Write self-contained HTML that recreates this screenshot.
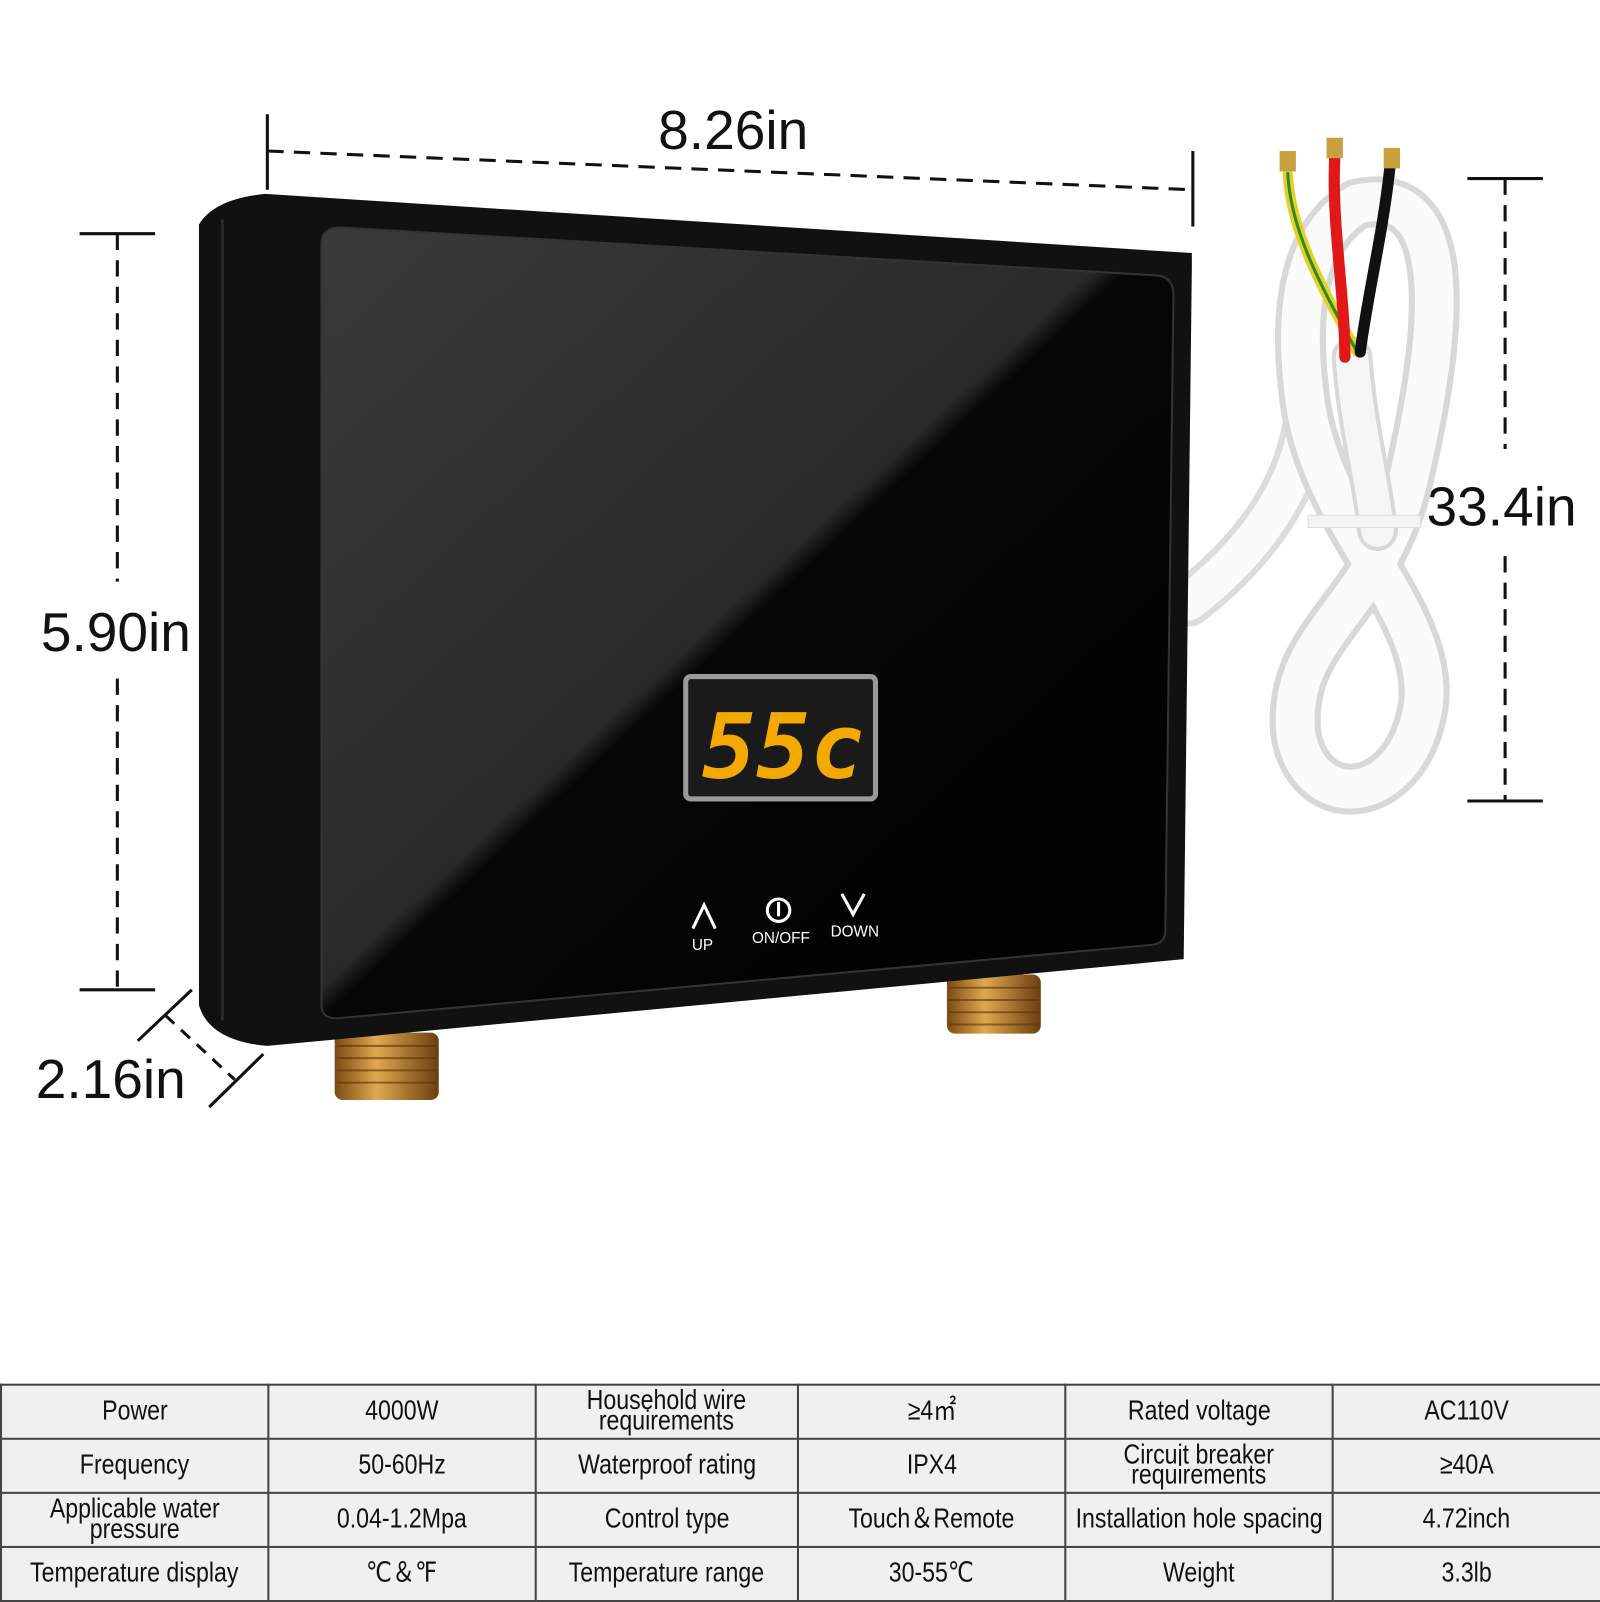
<!DOCTYPE html>
<html><head><meta charset="utf-8"><style>
html,body{margin:0;padding:0;background:#fff;width:1600px;height:1600px;overflow:hidden}
#w{position:absolute;left:0;top:0;width:1568px;height:1568px;transform:scale(1.020408);transform-origin:0 0;font-family:"Liberation Sans","DejaVu Sans",sans-serif}
svg{position:absolute;left:0;top:0}
table{position:absolute;left:0;top:1356px;width:1569px;border-collapse:collapse;table-layout:fixed}
td{border:2px solid #444;background:#f0f0f0;height:51px;text-align:center;color:#111;padding:0;white-space:nowrap;overflow:visible}
td span{display:inline-block;font-size:27px;line-height:20px;transform:scaleX(0.84);margin:0 -30px}
</style></head><body><div id="w">
<svg width="1568" height="1568" viewBox="0 0 1568 1568">
<defs>
<linearGradient id="g" x1="0" y1="0" x2="1" y2="1">
<stop offset="0" stop-color="#3a3a3a"/><stop offset="0.48" stop-color="#2a2a2a"/><stop offset="0.5" stop-color="#060606"/><stop offset="1" stop-color="#000"/></linearGradient>
<linearGradient id="br" x1="0" y1="0" x2="1" y2="0"><stop offset="0" stop-color="#7a4a14"/><stop offset="0.4" stop-color="#e0a850"/><stop offset="1" stop-color="#6a3e10"/></linearGradient>
</defs>
<g stroke="#111" stroke-width="3" fill="none">
<line x1="262" y1="112" x2="262" y2="186"/><line x1="1169" y1="148" x2="1169" y2="222"/>
<line x1="262" y1="148" x2="1169" y2="186" stroke-dasharray="16 10"/>
<line x1="78" y1="229" x2="152" y2="229"/><line x1="78" y1="970" x2="152" y2="970"/>
<line x1="115" y1="229" x2="115" y2="570" stroke-dasharray="16 10"/><line x1="115" y1="665" x2="115" y2="970" stroke-dasharray="16 10"/>
<line x1="1438" y1="175" x2="1512" y2="175"/><line x1="1438" y1="785" x2="1512" y2="785"/>
<line x1="1475" y1="175" x2="1475" y2="440" stroke-dasharray="16 10"/><line x1="1475" y1="545" x2="1475" y2="785" stroke-dasharray="16 10"/>
<line x1="135" y1="1020" x2="188" y2="970"/><line x1="205" y1="1085" x2="258" y2="1033"/>
<line x1="162" y1="995" x2="230" y2="1058" stroke-dasharray="12 9"/>
</g>
<g font-family="Liberation Sans,sans-serif" font-size="54" fill="#111">
<text x="645" y="146">8.26in</text><text x="40" y="638">5.90in</text><text x="1398" y="515">33.4in</text><text x="35" y="1076">2.16in</text>
</g>
<g fill="none" stroke-linecap="round">
<path d="M1165 590 C1230 540 1270 480 1280 420" stroke="#dcdcdc" stroke-width="48"/>
<path d="M1165 590 C1230 540 1270 480 1280 420" stroke="#fbfbfb" stroke-width="36"/>
<path d="M1330 200 C1420 180 1420 300 1380 470 C1350 600 1260 620 1270 720 C1285 800 1380 790 1395 690 C1405 600 1300 520 1280 400 C1265 300 1280 230 1330 200" stroke="#d8d8d8" stroke-width="50"/>
<path d="M1330 200 C1420 180 1420 300 1380 470 C1350 600 1260 620 1270 720 C1285 800 1380 790 1395 690 C1405 600 1300 520 1280 400 C1265 300 1280 230 1330 200" stroke="#fbfbfb" stroke-width="38"/>
<path d="M1325 350 C1330 420 1345 470 1350 520" stroke="#d8d8d8" stroke-width="40"/>
<path d="M1325 350 C1330 420 1345 470 1350 520" stroke="#f6f6f6" stroke-width="32"/>
<path d="M1262 170 C1265 230 1300 290 1330 345" stroke="#e8d020" stroke-width="10"/>
<path d="M1262 170 C1265 230 1300 290 1330 345" stroke="#2a8a30" stroke-width="3"/>
<path d="M1308 155 C1305 220 1318 290 1318 350" stroke="#e01818" stroke-width="11"/>
<path d="M1362 165 C1355 230 1340 290 1333 345" stroke="#111" stroke-width="11"/>
</g>
<rect x="1254" y="148" width="16" height="20" fill="#c9a040"/><rect x="1300" y="135" width="16" height="20" fill="#c9a040"/><rect x="1356" y="145" width="16" height="20" fill="#c9a040"/>
<rect x="1282" y="505" width="110" height="12" fill="#f4f4f4" stroke="#ddd"/>
<rect x="328" y="1012" width="102" height="66" rx="8" fill="url(#br)"/>
<rect x="928" y="955" width="92" height="58" rx="8" fill="url(#br)"/>
<g stroke="#5a3408" stroke-width="2" opacity="0.6">
<line x1="330" y1="1025" x2="428" y2="1025"/><line x1="330" y1="1037" x2="428" y2="1037"/><line x1="330" y1="1049" x2="428" y2="1049"/><line x1="330" y1="1061" x2="428" y2="1061"/>
<line x1="930" y1="968" x2="1018" y2="968"/><line x1="930" y1="980" x2="1018" y2="980"/><line x1="930" y1="992" x2="1018" y2="992"/><line x1="930" y1="1004" x2="1018" y2="1004"/>
</g>
<path d="M195 220 Q210 195 260 190 L1168 248 L1168 262 L1160 940 L262 1025 Q205 1020 195 985 Z" fill="#111"/>
<path d="M218 215 L218 1000" stroke="#2a2a2a" stroke-width="3"/>
<path d="M315 240 Q315 222 335 223 L1135 270 Q1150 272 1150 290 L1142 912 Q1142 925 1128 926 L330 998 Q315 998 315 985 Z" fill="url(#g)" stroke="#333" stroke-width="2"/>
<rect x="672" y="663" width="186" height="120" rx="5" fill="#1a1a1a" stroke="#9a9a9a" stroke-width="5"/>
<text x="688" y="762" font-family="DejaVu Sans Mono,monospace" font-weight="bold" font-size="88" fill="#f4a900" font-style="italic">55c</text>
<g fill="#fff" font-family="Liberation Sans,sans-serif" font-size="15">
<path d="M679 910 L690 887 L701 910" stroke="#fff" stroke-width="3" fill="none"/>
<text x="678" y="931">UP</text>
<circle cx="763" cy="892" r="11" stroke="#fff" stroke-width="3" fill="none"/><line x1="763" y1="884" x2="763" y2="898" stroke="#fff" stroke-width="3"/>
<text x="737" y="924">ON/OFF</text>
<path d="M825 876 L836 896 L847 876" stroke="#fff" stroke-width="3" fill="none"/>
<text x="814" y="918">DOWN</text>
</g>
</svg>
<table>
<colgroup><col style="width:262px"><col style="width:262px"><col style="width:257px"><col style="width:262px"><col style="width:262px"><col style="width:263px"></colgroup>
<tr><td><span>Power</span></td><td><span>4000W</span></td><td><span>Household wire<br>requirements</span></td><td><span>≥4㎡</span></td><td><span>Rated voltage</span></td><td><span>AC110V</span></td></tr>
<tr><td><span>Frequency</span></td><td><span>50-60Hz</span></td><td><span>Waterproof rating</span></td><td><span>IPX4</span></td><td><span>Circuit breaker<br>requirements</span></td><td><span>≥40A</span></td></tr>
<tr><td><span>Applicable water<br>pressure</span></td><td><span>0.04-1.2Mpa</span></td><td><span>Control type</span></td><td><span>Touch＆Remote</span></td><td><span>Installation hole spacing</span></td><td><span>4.72inch</span></td></tr>
<tr><td><span>Temperature display</span></td><td><span>℃＆℉</span></td><td><span>Temperature range</span></td><td><span>30-55℃</span></td><td><span>Weight</span></td><td><span>3.3lb</span></td></tr>
</table>
</div></body></html>
